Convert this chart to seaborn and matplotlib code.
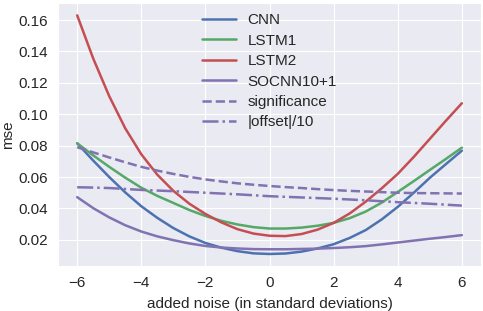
import numpy as np
import pandas as pd
import matplotlib
matplotlib.use('Agg')
import matplotlib.pyplot as plt
import seaborn as sns

# noise levels (in standard deviations), half-step grid
noise = [-6, -5.5, -5, -4.5, -4, -3.5, -3, -2.5, -2, -1.5, -1, -0.5, 0,
         0.5, 1, 1.5, 2, 2.5, 3, 3.5, 4, 4.5, 5, 5.5, 6]

# mse values
cnn = [0.0815, 0.0705, 0.0600, 0.0502, 0.0414, 0.0340, 0.0275, 0.0222, 0.0180,
       0.0150, 0.0128, 0.0114, 0.0110, 0.0113, 0.0125, 0.0145, 0.0172, 0.0212,
       0.0262, 0.0330, 0.0410, 0.0500, 0.0595, 0.0682, 0.0768]
lstm1 = [0.0815, 0.0738, 0.0665, 0.0596, 0.0532, 0.0480, 0.0435, 0.0390, 0.0352,
         0.0321, 0.0298, 0.0281, 0.0272, 0.0272, 0.0278, 0.0290, 0.0308, 0.0338,
         0.0380, 0.0437, 0.0505, 0.0574, 0.0645, 0.0715, 0.0787]
lstm2 = [0.1630, 0.1355, 0.1115, 0.0910, 0.0745, 0.0615, 0.0512, 0.0430, 0.0365,
         0.0311, 0.0268, 0.0240, 0.0226, 0.0224, 0.0237, 0.0265, 0.0308, 0.0368,
         0.0443, 0.0528, 0.0620, 0.0728, 0.0843, 0.0958, 0.1070]
socnn = [0.0472, 0.0402, 0.0343, 0.0293, 0.0253, 0.0222, 0.0198, 0.0177, 0.0161,
         0.0151, 0.0145, 0.0141, 0.0140, 0.0140, 0.0142, 0.0144, 0.0148, 0.0153,
         0.0160, 0.0171, 0.0183, 0.0195, 0.0207, 0.0218, 0.0230]
significance = [0.0790, 0.0757, 0.0725, 0.0694, 0.0665, 0.0641, 0.0620, 0.0601,
                0.0585, 0.0572, 0.0560, 0.0551, 0.0543, 0.0536, 0.0530, 0.0523,
                0.0517, 0.0512, 0.0508, 0.0504, 0.0500, 0.0498, 0.0497, 0.0496, 0.0495]
offset = [0.0535, 0.0533, 0.0530, 0.0524, 0.0518, 0.0514, 0.0510, 0.0505, 0.0500,
          0.0495, 0.0490, 0.0484, 0.0478, 0.0474, 0.0470, 0.0466, 0.0462, 0.0457,
          0.0452, 0.0446, 0.0440, 0.0435, 0.0430, 0.0424, 0.0418]

sns.set_style('darkgrid')
plt.rcParams['font.family'] = ['Liberation Sans', 'DejaVu Sans']
plt.rcParams['axes.unicode_minus'] = True

blue, green, red, purple = '#4C72B0', '#55A868', '#C44E52', '#8172B2'

fig = plt.figure(figsize=(4.83, 3.11), dpi=100)
ax = fig.add_axes([0.120, 0.145, 0.876, 0.844])

lw = 1.8
sns.lineplot(x=noise, y=cnn, ax=ax, color=blue, lw=lw, label='CNN')
sns.lineplot(x=noise, y=lstm1, ax=ax, color=green, lw=lw, label='LSTM1')
sns.lineplot(x=noise, y=lstm2, ax=ax, color=red, lw=lw, label='LSTM2')
sns.lineplot(x=noise, y=socnn, ax=ax, color=purple, lw=lw, label='SOCNN10+1')
sns.lineplot(x=noise, y=significance, ax=ax, color=purple, lw=lw, ls='--', label='significance')
sns.lineplot(x=noise, y=offset, ax=ax, color=purple, lw=lw, ls='-.', label='|offset|/10')

ax.set_xticks([-6, -4, -2, 0, 2, 4, 6])
ax.set_yticks([0.02, 0.04, 0.06, 0.08, 0.10, 0.12, 0.14, 0.16])
ax.tick_params(labelsize=11, colors='#262626', pad=4)
ax.set_xlabel('added noise (in standard deviations)', fontsize=11, color='#262626', labelpad=5)
ax.set_ylabel('mse', fontsize=11, color='#262626', labelpad=2)

ax.legend(loc='upper center', frameon=False, fontsize=11, handlelength=2.2,
          labelspacing=0.42, borderaxespad=0.25)

fig.savefig('out.png', dpi=100)
